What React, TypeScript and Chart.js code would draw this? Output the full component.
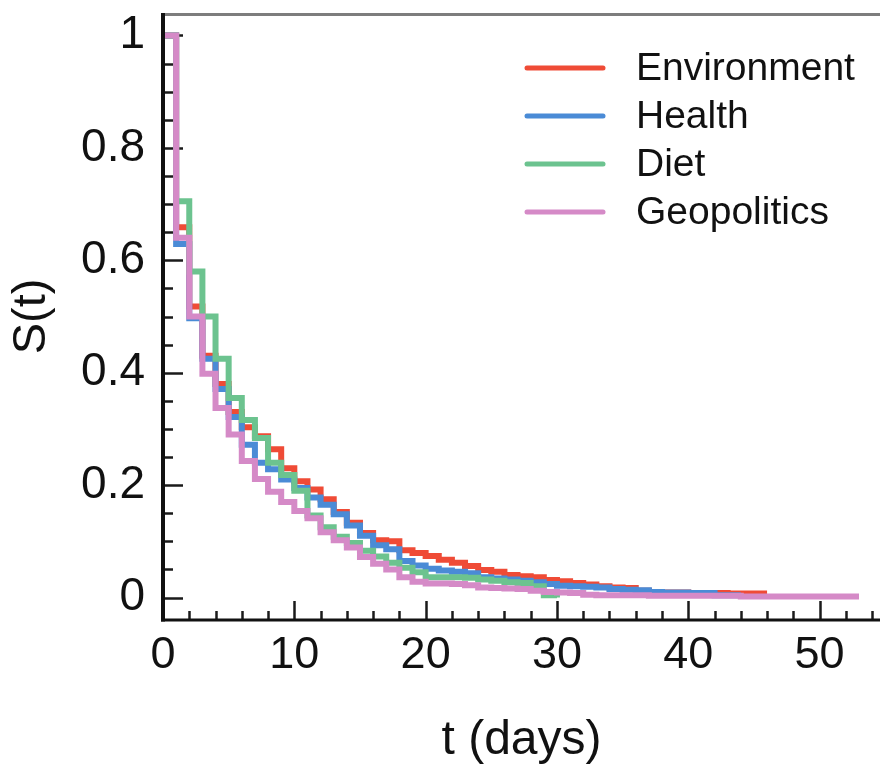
import React, { useEffect, useRef } from "react";
import { Chart, registerables } from "chart.js";

Chart.register(...registerables);

// ---- data (index = day t) ----
const seriesNames = ["Environment", "Health", "Diet", "Geopolitics"];
const seriesColors = ["#EF4B36", "#4A8BD6", "#6CC38F", "#D58AC7"];

const environment = [
  1, 0.659, 0.518, 0.43, 0.38, 0.33, 0.303, 0.287, 0.264, 0.23,
  0.207, 0.192, 0.175, 0.152, 0.133, 0.115, 0.102, 0.1, 0.084, 0.079,
  0.074, 0.067, 0.062, 0.056, 0.049, 0.046, 0.04, 0.038, 0.036, 0.031,
  0.029, 0.026, 0.023, 0.02, 0.018, 0.017, 0.012, 0.01, 0.009, 0.009,
  0.008, 0.008, 0.008, 0.007, 0.007, 0.007, 0.007,
];
const health = [
  1, 0.629, 0.497, 0.425, 0.371, 0.321, 0.272, 0.24, 0.228, 0.21,
  0.195, 0.178, 0.165, 0.148, 0.128, 0.11, 0.093, 0.086, 0.065, 0.057,
  0.051, 0.048, 0.046, 0.043, 0.036, 0.034, 0.032, 0.03, 0.027, 0.024,
  0.021, 0.02, 0.019, 0.018, 0.015, 0.014, 0.013, 0.01, 0.009, 0.009,
  0.008, 0.008, 0.004, 0.004, 0.004,
];
const diet = [
  1, 0.705, 0.58, 0.5, 0.425, 0.355, 0.316, 0.284, 0.24, 0.218,
  0.19, 0.146, 0.125, 0.108, 0.097, 0.083, 0.073, 0.062, 0.053, 0.045,
  0.036, 0.036, 0.036, 0.035, 0.032, 0.03, 0.027, 0.026, 0.02, 0.004,
  0,
];
const geopolitics = [
  1, 0.64, 0.5, 0.398, 0.337, 0.29, 0.243, 0.211, 0.188, 0.17,
  0.154, 0.141, 0.116, 0.102, 0.089, 0.072, 0.06, 0.05, 0.036, 0.028,
  0.025, 0.025, 0.024, 0.022, 0.018, 0.017, 0.016, 0.015, 0.012, 0.01,
  0.009, 0.008, 0.005, 0.004, 0.004, 0.004, 0.004, 0.003, 0.003, 0.003,
  0.003, 0.003, 0.003, 0.003, 0.002, 0.002, 0.002, 0.002, 0.002, 0.002,
  0.002, 0.002, 0.002, 0.002,
];
const seriesValues = [environment, health, diet, geopolitics];

const xTickValues = [0, 10, 20, 30, 40, 50];
const yTickValues = [0, 0.2, 0.4, 0.6, 0.8, 1];
const xMinorStep = 2;
const yMinorStep = 0.05;

const FONT = "'Liberation Sans', Arial, Helvetica, sans-serif";

const axisDecor = {
  id: "axisDecor",
  beforeDatasetsDraw(chart: any) {
    const { ctx, chartArea: ca, scales } = chart;
    const x = scales.x;
    const y = scales.y;
    ctx.save();
    // top frame line
    ctx.strokeStyle = "#7d7d7d";
    ctx.lineWidth = 3;
    ctx.beginPath();
    ctx.moveTo(ca.left, ca.top + 1.5);
    ctx.lineTo(ca.right, ca.top + 1.5);
    ctx.stroke();
    // inward tick marks
    ctx.strokeStyle = "#1a1a1a";
    ctx.lineWidth = 2.5;
    const nY = Math.round(1 / yMinorStep);
    for (let i = 0; i <= nY; i++) {
      const py = Math.round(y.getPixelForValue(i * yMinorStep)) + 0.5;
      const len = i % 4 === 0 ? 20 : 10;
      ctx.beginPath();
      ctx.moveTo(ca.left, py);
      ctx.lineTo(ca.left + len, py);
      ctx.stroke();
    }
    for (let d = xMinorStep; d <= x.max; d += xMinorStep) {
      const px = Math.round(x.getPixelForValue(d)) + 0.5;
      const len = d % 10 === 0 ? 19 : 9;
      ctx.beginPath();
      ctx.moveTo(px, ca.bottom);
      ctx.lineTo(px, ca.bottom - len);
      ctx.stroke();
    }
    ctx.restore();
  },
  afterDatasetsDraw(chart: any) {
    const { ctx, chartArea: ca } = chart;
    ctx.save();
    ctx.strokeStyle = "#111";
    ctx.lineWidth = 4;
    ctx.beginPath();
    ctx.moveTo(ca.left, ca.top);
    ctx.lineTo(ca.left, ca.bottom + 1.5);
    ctx.stroke();
    ctx.lineWidth = 3;
    ctx.beginPath();
    ctx.moveTo(ca.left - 2, ca.bottom);
    ctx.lineTo(ca.right, ca.bottom);
    ctx.stroke();
    ctx.restore();
  },
  afterDraw(chart: any) {
    const { ctx, chartArea: ca } = chart;
    ctx.save();
    const lineX0 = ca.right - 353;
    const lineX1 = ca.right - 277;
    const textX = ca.right - 244;
    ctx.font = `39px ${FONT}`;
    ctx.textBaseline = "middle";
    ctx.textAlign = "left";
    chart.data.datasets.forEach((ds: any, i: number) => {
      const yy = ca.top + 55 + i * 48;
      ctx.strokeStyle = ds.borderColor;
      ctx.lineWidth = 5;
      ctx.lineCap = "round";
      ctx.beginPath();
      ctx.moveTo(lineX0, yy);
      ctx.lineTo(lineX1, yy);
      ctx.stroke();
      ctx.fillStyle = "#111";
      ctx.fillText(ds.label, textX, yy + 1);
    });
    ctx.restore();
  },
};

export default function App() {
  const canvasRef = useRef<HTMLCanvasElement | null>(null);

  useEffect(() => {
    if (!canvasRef.current) return;
    const drawOrder = [3, 2, 1, 0];
    const chart = new Chart(canvasRef.current, {
      type: "line",
      data: {
        datasets: seriesNames.map((name, i) => ({
          label: name,
          data: seriesValues[i].map((v, t) => ({ x: t, y: v })),
          borderColor: seriesColors[i],
          backgroundColor: seriesColors[i],
          borderWidth: 6,
          pointRadius: 0,
          stepped: true,
          fill: false,
          borderJoinStyle: "miter",
          order: drawOrder[i],
        })),
      },
      options: {
        responsive: false,
        animation: false,
        events: [],
        layout: { padding: { top: 13, left: 0, right: 0, bottom: 0 } },
        plugins: {
          legend: { display: false },
          tooltip: { enabled: false },
        },
        scales: {
          x: {
            type: "linear",
            min: 0,
            max: 54.6,
            afterBuildTicks: (s: any) => {
              s.ticks = xTickValues.map((v) => ({ value: v }));
            },
            afterFit: (s: any) => {
              s.height = 146;
              s.paddingLeft = 0;
              s.paddingRight = 0;
            },
            grid: { display: false, drawOnChartArea: false, drawTicks: false },
            border: { display: false },
            ticks: {
              padding: 9,
              color: "#111",
              maxRotation: 0,
              autoSkip: false,
              font: { family: FONT, size: 45, lineHeight: 1.2 },
              callback: (v: any) => String(v),
            },
            title: {
              display: true,
              text: "t (days)",
              color: "#111",
              font: { family: FONT, size: 48, lineHeight: 1 },
              padding: { top: 1, bottom: 1 },
            },
          },
          y: {
            type: "linear",
            min: -0.04,
            max: 1.04,
            afterBuildTicks: (s: any) => {
              s.ticks = yTickValues.map((v) => ({ value: v }));
            },
            afterFit: (s: any) => {
              s.width = 163;
              s.paddingTop = 0;
              s.paddingBottom = 0;
            },
            grid: { display: false, drawOnChartArea: false, drawTicks: false },
            border: { display: false },
            ticks: {
              padding: 18,
              color: "#111",
              autoSkip: false,
              font: { family: FONT, size: 46, lineHeight: 0.4 },
              callback: (v: any) => String(v),
            },
            title: {
              display: true,
              text: "S(t)",
              color: "#111",
              font: { family: FONT, size: 47, lineHeight: 1 },
              padding: { top: 9, bottom: 9 },
            },
          },
        },
      },
      plugins: [axisDecor],
    } as any);
    return () => chart.destroy();
  }, []);

  return (
    <div style={{ position: "absolute", left: 0, top: 0, width: 880, height: 766, background: "#fff" }}>
      <canvas ref={canvasRef} width={880} height={766} style={{ display: "block" }} />
    </div>
  );
}
